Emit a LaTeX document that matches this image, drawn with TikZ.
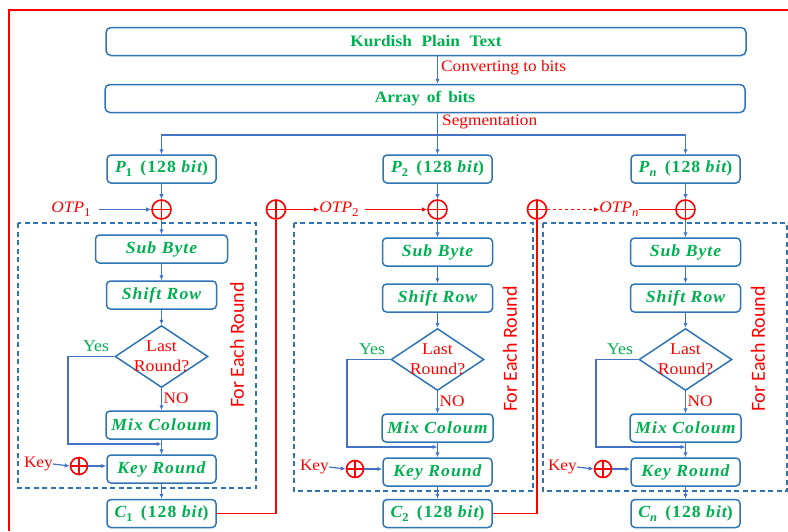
\documentclass[tikz,border=0pt]{standalone}
\usepackage{fontspec}
\setmainfont{Liberation Serif}[FakeStretch=1.08]
\newfontfamily\lblfont{Liberation Serif}[FakeStretch=1.04,LetterSpace=6]
\newfontfamily\roundfont{Carlito}
\usetikzlibrary{arrows.meta,shapes.geometric,calc}
\definecolor{boxblue}{RGB}{46,117,182}
\definecolor{lineblue}{RGB}{68,114,196}
\definecolor{txtgreen}{RGB}{0,176,80}
\definecolor{xred}{RGB}{255,0,0}
% lowered index for P_1, C_n, OTP_2 ...
\newcommand\lowidx[1]{\raisebox{-4pt}{\fontsize{12}{12}\selectfont #1}}

\tikzset{
  stepbox/.style={draw=boxblue, line width=1.5pt, rounded corners=4pt,
    minimum height=28pt, inner sep=0pt, text=txtgreen,
    font=\fontsize{17}{20}\selectfont\lblfont\bfseries\itshape},
  titlebox/.style={draw=boxblue, line width=1.5pt, rounded corners=5pt,
    minimum height=28pt, minimum width=640pt, inner sep=0pt, text=txtgreen,
    font=\fontsize{16}{19}\selectfont\bfseries},
  decide/.style={diamond, draw=boxblue, line width=1.5pt, minimum width=93pt,
    minimum height=62pt, inner sep=0pt},
  asktext/.style={text=xred, align=center, inner sep=0pt,
    font=\fontsize{16.5}{20}\selectfont},
  redtxt/.style={text=xred, inner sep=0pt, font=\fontsize{16}{19}\selectfont},
  greentxt/.style={text=txtgreen, inner sep=0pt, font=\fontsize{16.5}{19}\selectfont},
  roundlbl/.style={text=xred, inner sep=0pt, rotate=90,
    font=\fontsize{20}{24}\selectfont\roundfont},
  xor/.style={circle, draw=xred, line width=1.6pt, minimum size=19pt, inner sep=0pt,
    path picture={\draw[xred, line width=1.3pt]
      (path picture bounding box.north) -- (path picture bounding box.south)
      (path picture bounding box.west) -- (path picture bounding box.east);}},
  arr/.style={draw=lineblue, line width=1.2pt, -{Latex[length=5pt,width=4.5pt]}},
  blueline/.style={draw=lineblue, line width=1.2pt},
  redarr/.style={draw=xred, line width=1.5pt, -{Latex[length=5pt,width=4.5pt]}},
  redline/.style={draw=xred, line width=1.5pt},
  dashbox/.style={draw=boxblue, line width=1.4pt, dash pattern=on 5pt off 3.5pt},
}

\begin{document}
\begin{tikzpicture}[x=1pt, y=-1pt]
\useasboundingbox (0,0) rectangle (788,531);

% outer frame
\draw[redline] (9,531) -- (9,10) -- (788,10);

% input stages
\node[titlebox] (kpt) at (426,41.5) {Kurdish\,\, Plain\,\, Text};
\node[titlebox] (aob) at (425,98.5) {Array\, of\, bits};
\node[redtxt, anchor=west] (cvt) at (441,68) {Converting to bits};
\node[redtxt, anchor=west] (sgm) at (442,122) {Segmentation};

% rounds of each block
\draw[dashbox] (18,223) rectangle (256,488);
\draw[dashbox] (294,223) rectangle (533,491);
\draw[dashbox] (543,223) rectangle (787,491);

\foreach \c/\x/\d/\w/\lx/\fx/\fy/\s in {
    1/161.5/0/132/68/237/345/{\upshape 1},
    2/437.5/3/110/347/510/349/{\upshape 2},
    3/685.5/3/110/596/758/349/{n}}{
  \node[stepbox, minimum width=109] (p\c) at (\x,169) {P\lowidx{\s}\, \upshape(128 \itshape bit\upshape)};
  \node[xor] (xt\c) at (\x,209.5) {};
  \node[stepbox, minimum width=\w] (sb\c) at (\x,249+\d) {Sub Byte};
  \node[stepbox, minimum width=110] (sr\c) at (\x,295+\d) {Shift Row};
  \node[decide] (dc\c) at (\x,356.5+\d) {};
  \node[asktext] (dt\c) at (\x,356+\d) {Last\\Round?};
  \node[stepbox, minimum width=111] (mx\c) at (\x,425+\d) {Mix Coloum};
  \node[stepbox, minimum width=109] (kr\c) at (\x,469+\d) {Key Round};
  \node[stepbox, minimum width=109] (cc\c) at (\x,513.5) {C\lowidx{\s}\, \upshape(128 \itshape bit\upshape)};
  \node[xor, minimum size=17pt] (kx\c) at (\x-82.5,466+\d) {};
  \node[redtxt, anchor=east] (kl\c) at ($(kx\c)+(-26,-2)$) {Key};
  \node[greentxt, anchor=east] (ys\c) at ($(dc\c.west)+(-5,-10)$) {Yes};
  \node[redtxt, anchor=west] (no\c) at ($(dc\c.south)+(2,10)$) {NO};
  \node[roundlbl] (fe\c) at (\fx,\fy) {For Each Round};
  \coordinate (lp\c) at (\lx,444+\d);

  \draw[arr] (p\c) -- (xt\c);
  \draw[arr] (xt\c) -- (sb\c);
  \draw[arr] (sb\c) -- (sr\c);
  \draw[arr] (sr\c) -- (dc\c.north);
  \draw[arr] (dc\c.south) -- (mx\c);
  \draw[arr] (mx\c) -- (kr\c);
  \draw[arr] (kr\c) -- (cc\c);
  \draw[arr] (dc\c.west) -| (lp\c) -- (lp\c -| mx\c.south);
  \draw[arr] (kl\c.east) -- (kx\c.west);
  \draw[arr] (kx\c) -- (kx\c -| kr\c.west);
}

% conversion and segmentation
\coordinate (bus) at (437.5,135);
\draw[arr] (kpt.south -| bus) -- (aob.north -| bus);
\draw[blueline] (aob.south -| bus) -- (bus);
\draw[arr] (bus) -| (p1.north);
\draw[arr] (bus) -| (p3.north);
\draw[arr] (bus) -- (p2.north);

% one-time pads chained from the previous cipher block
\node[redtxt] (otp1) at (71,209.5) {\itshape OTP\lowidx{\upshape 1}};
\node[xor] (xa) at (276,209.5) {};
\node[redtxt] (otp2) at (339,209.5) {\itshape OTP\lowidx{\upshape 2}};
\node[xor] (xb) at (537,209.5) {};
\node[redtxt] (otp3) at (619,209.5) {\itshape OTP\lowidx{n}};

\draw[arr, shorten <=8pt] (otp1.east) -- (xt1.west);
\draw[redline] (cc1.east) -| (xa.south);
\draw[redarr] (xa.east) -- (otp2.west);
\draw[redarr, shorten <=6pt] (otp2.east) -- (xt2.west);
\draw[redline] (cc2.east) -| (xb.south);
\draw[redarr, dashed] (xb.east) -- (otp3.west);
\draw[redline] (otp3.east) -- (xt3.west);
\end{tikzpicture}
\end{document}
